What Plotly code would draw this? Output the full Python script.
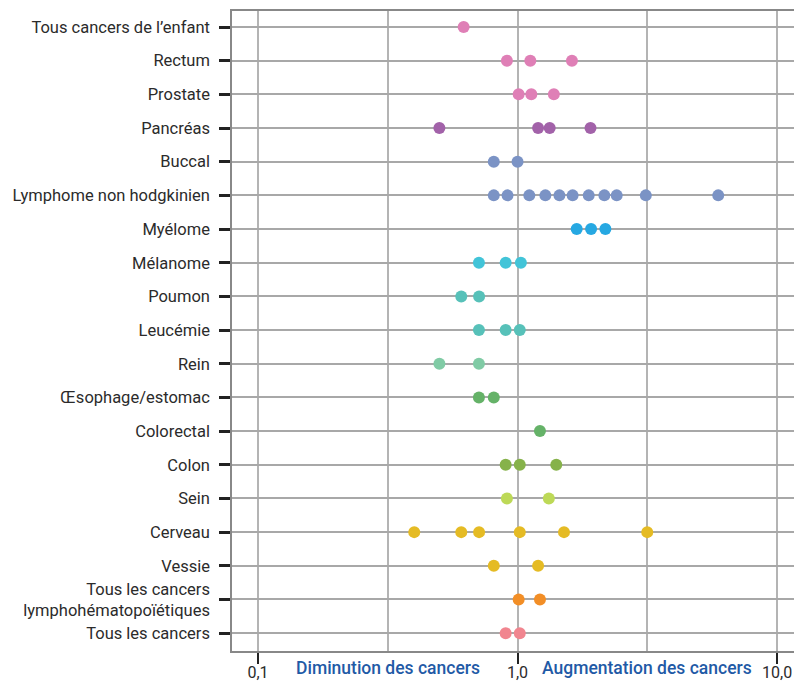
import math
import plotly.graph_objects as go

# Cancer sites, top to bottom
categories = [
    "Tous cancers de l’enfant",
    "Rectum",
    "Prostate",
    "Pancréas",
    "Buccal",
    "Lymphome non hodgkinien",
    "Myélome",
    "Mélanome",
    "Poumon",
    "Leucémie",
    "Rein",
    "Œsophage/estomac",
    "Colorectal",
    "Colon",
    "Sein",
    "Cerveau",
    "Vessie",
    "Tous les cancers<br>lymphohématopoïétiques",
    "Tous les cancers",
]

# Relative risk estimates per site (log scale)
enfant = [0.62]
rectum = [0.91, 1.12, 1.62]
prostate = [1.01, 1.13, 1.38]
pancreas = [0.50, 1.20, 1.33, 1.91]
buccal = [0.81, 1.00]
lnh = [0.81, 0.915, 1.11, 1.28, 1.45, 1.63, 1.88, 2.16, 2.41, 3.12, 5.93]
myelome = [1.69, 1.92, 2.18]
melanome = [0.71, 0.90, 1.03]
poumon = [0.607, 0.711]
leucemie = [0.71, 0.90, 1.02]
rein = [0.50, 0.71]
oesophage = [0.71, 0.81]
colorectal = [1.22]
colon = [0.90, 1.02, 1.41]
sein = [0.91, 1.32]
cerveau = [0.40, 0.607, 0.711, 1.02, 1.51, 3.16]
vessie = [0.81, 1.20]
lymphohemato = [1.01, 1.22]
tous = [0.90, 1.02]

series = [enfant, rectum, prostate, pancreas, buccal, lnh, myelome, melanome,
          poumon, leucemie, rein, oesophage, colorectal, colon, sein, cerveau,
          vessie, lymphohemato, tous]

colors = ["#df7fb6", "#df7fb6", "#df7fb6", "#a262a9", "#7b93c5", "#7b93c5",
          "#26a8e2", "#42c4d8", "#57c1b9", "#57c1b9", "#80cba5", "#65b268",
          "#65b268", "#86b24a", "#bdd957", "#e5bb24", "#e5bb24", "#f28e26",
          "#f1858f"]

x_ticks = [0.1, 1, 10]
x_ticktext = ["0,1", "1,0", "10,0"]
half_decades = [10 ** -0.5, 10 ** 0.5]

FONT = "Roboto"
TEXT = "#2b2b2b"
BLUE_LINE = "#6f86c8"
BLUE_TEXT = "#1f5aa6"

fig = go.Figure()
for i, (vals, col) in enumerate(zip(series, colors)):
    fig.add_trace(go.Scatter(
        x=vals, y=[i] * len(vals), mode="markers",
        marker=dict(size=12, color=col, line=dict(width=0)),
        hoverinfo="x+name", name=categories[i].replace("<br>", " "),
        showlegend=False,
    ))

# Reference line at a ratio of 1
fig.add_shape(type="line", xref="x", yref="paper", x0=0, x1=0, y0=-0.019, y1=1,
              line=dict(color=BLUE_LINE, width=2), layer="above")

fig.add_annotation(x=math.log10(half_decades[0]), y=-0.027, xref="x", yref="paper",
                   text="Diminution des cancers", showarrow=False, yanchor="middle",
                   font=dict(family=FONT, size=17.5, color=BLUE_TEXT, weight=500))
fig.add_annotation(x=math.log10(half_decades[1]), y=-0.027, xref="x", yref="paper",
                   text="Augmentation des cancers", showarrow=False, yanchor="middle",
                   font=dict(family=FONT, size=17.5, color=BLUE_TEXT, weight=500))

fig.update_layout(
    width=794, height=681,
    margin=dict(l=232, r=0, t=11, b=30, autoexpand=False),
    paper_bgcolor="white", plot_bgcolor="white",
    font=dict(family=FONT, size=16.5, color=TEXT),
    xaxis=dict(
        type="log", range=[-1.1, 1.065], automargin=False,
        tickvals=x_ticks, ticktext=x_ticktext,
        ticks="outside", ticklen=11, tickwidth=2, tickcolor="#222",
        ticklabelstandoff=-5,
        showgrid=True, gridcolor="#b4b4b4", gridwidth=1.5,
        minor=dict(tickvals=half_decades, showgrid=True, gridcolor="#b4b4b4",
                   gridwidth=1.5, ticks=""),
        showline=True, linecolor="#888", linewidth=1.5, mirror=True,
        zeroline=False, tickfont=dict(size=16, color=TEXT),
    ),
    yaxis=dict(
        range=[18.53, -0.475], automargin=False,
        tickvals=list(range(len(categories))), ticktext=categories,
        ticks="outside", ticklen=11, tickwidth=3, tickcolor="#222",
        ticklabelstandoff=6,
        showgrid=True, gridcolor="#a8a8a8", gridwidth=1.5,
        showline=True, linecolor="#888", linewidth=1.5,
        zeroline=False, tickfont=dict(size=16.5, color=TEXT),
    ),
)

fig.write_html("out.html")
